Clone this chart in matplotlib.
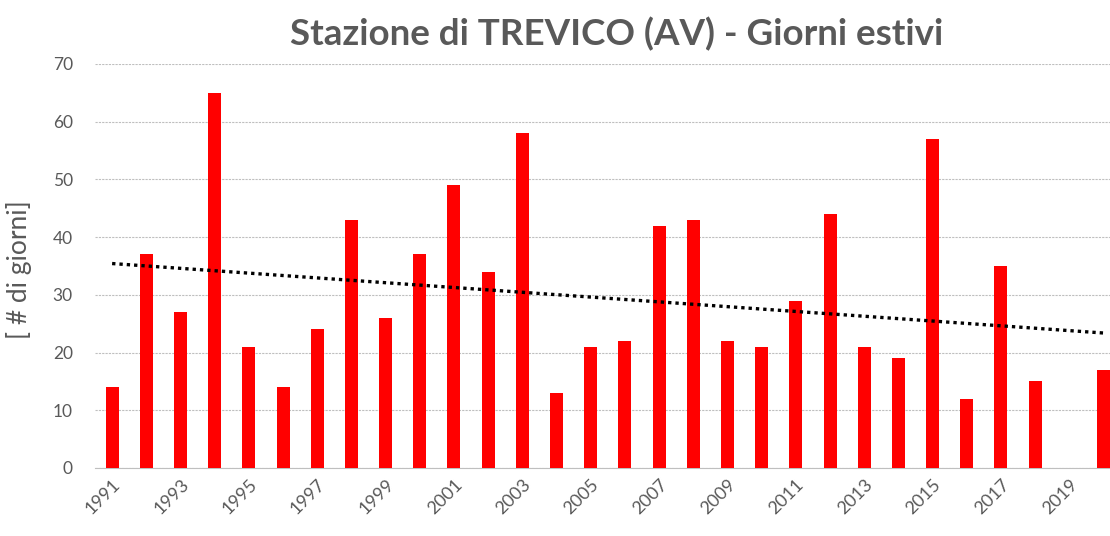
import numpy as np
import matplotlib
matplotlib.use("Agg")
import matplotlib.pyplot as plt

# -- Data --
years = list(range(1991, 2021))
giorni = [14, 37, 27, 65, 21, 14, 24, 43, 26, 37,
          49, 34, 58, 13, 21, 22, 42, 43, 22, 21,
          29, 44, 21, 19, 57, 12, 35, 15, np.nan, 17]
tick_years = list(range(1991, 2021, 2))

TITLE = "Stazione di TREVICO (AV) - Giorni estivi"
YLABEL = "[ # di giorni]"
GRAY = "#595959"

plt.rcParams["font.family"] = ["Lato", "DejaVu Sans"]

x = np.array(years, dtype=float)
y = np.array(giorni, dtype=float)

fig = plt.figure(figsize=(11.1, 5.36), dpi=100)
ax = fig.add_axes([0.0856, 0.127, 0.9144, 0.7536])

ax.bar(x, np.nan_to_num(y), width=0.38, color="#FF0000", zorder=3)

# linear trend (blank year counted as 0, like the spreadsheet)
coef = np.polyfit(x, np.nan_to_num(y), 1)
ax.plot(x, np.polyval(coef, x), color="black", linestyle=(0, (1, 1.2)),
        linewidth=2.4, zorder=4)

ax.set_xlim(1990.5, 2020.19)
ax.set_ylim(0, 70)
ax.set_yticks(range(0, 71, 10))
ax.set_xticks(tick_years)
ax.set_xticklabels([str(t) for t in tick_years], rotation=45, ha="right",
                   rotation_mode="anchor", fontsize=13, color=GRAY)
ax.tick_params(axis="y", labelsize=12.5, labelcolor=GRAY, length=0, pad=16)
ax.tick_params(axis="x", length=0, pad=6)

ax.grid(axis="y", color="#BFBFBF", linestyle=(0, (2, 1)), linewidth=0.8, zorder=0)
for s in ["top", "right", "left"]:
    ax.spines[s].set_visible(False)
ax.spines["bottom"].set_color("#BFBFBF")
ax.spines["bottom"].set_linestyle((0, (2, 1)))
ax.spines["bottom"].set_linewidth(0.8)

ax.set_ylabel(YLABEL, fontsize=19, color=GRAY)
ax.yaxis.set_label_coords(-0.062, 0.49)
fig.text(0.5555, 0.937, TITLE, ha="center", va="center", fontsize=26.5,
         fontweight="bold", color=GRAY)

fig.savefig("out.png", dpi=100)
